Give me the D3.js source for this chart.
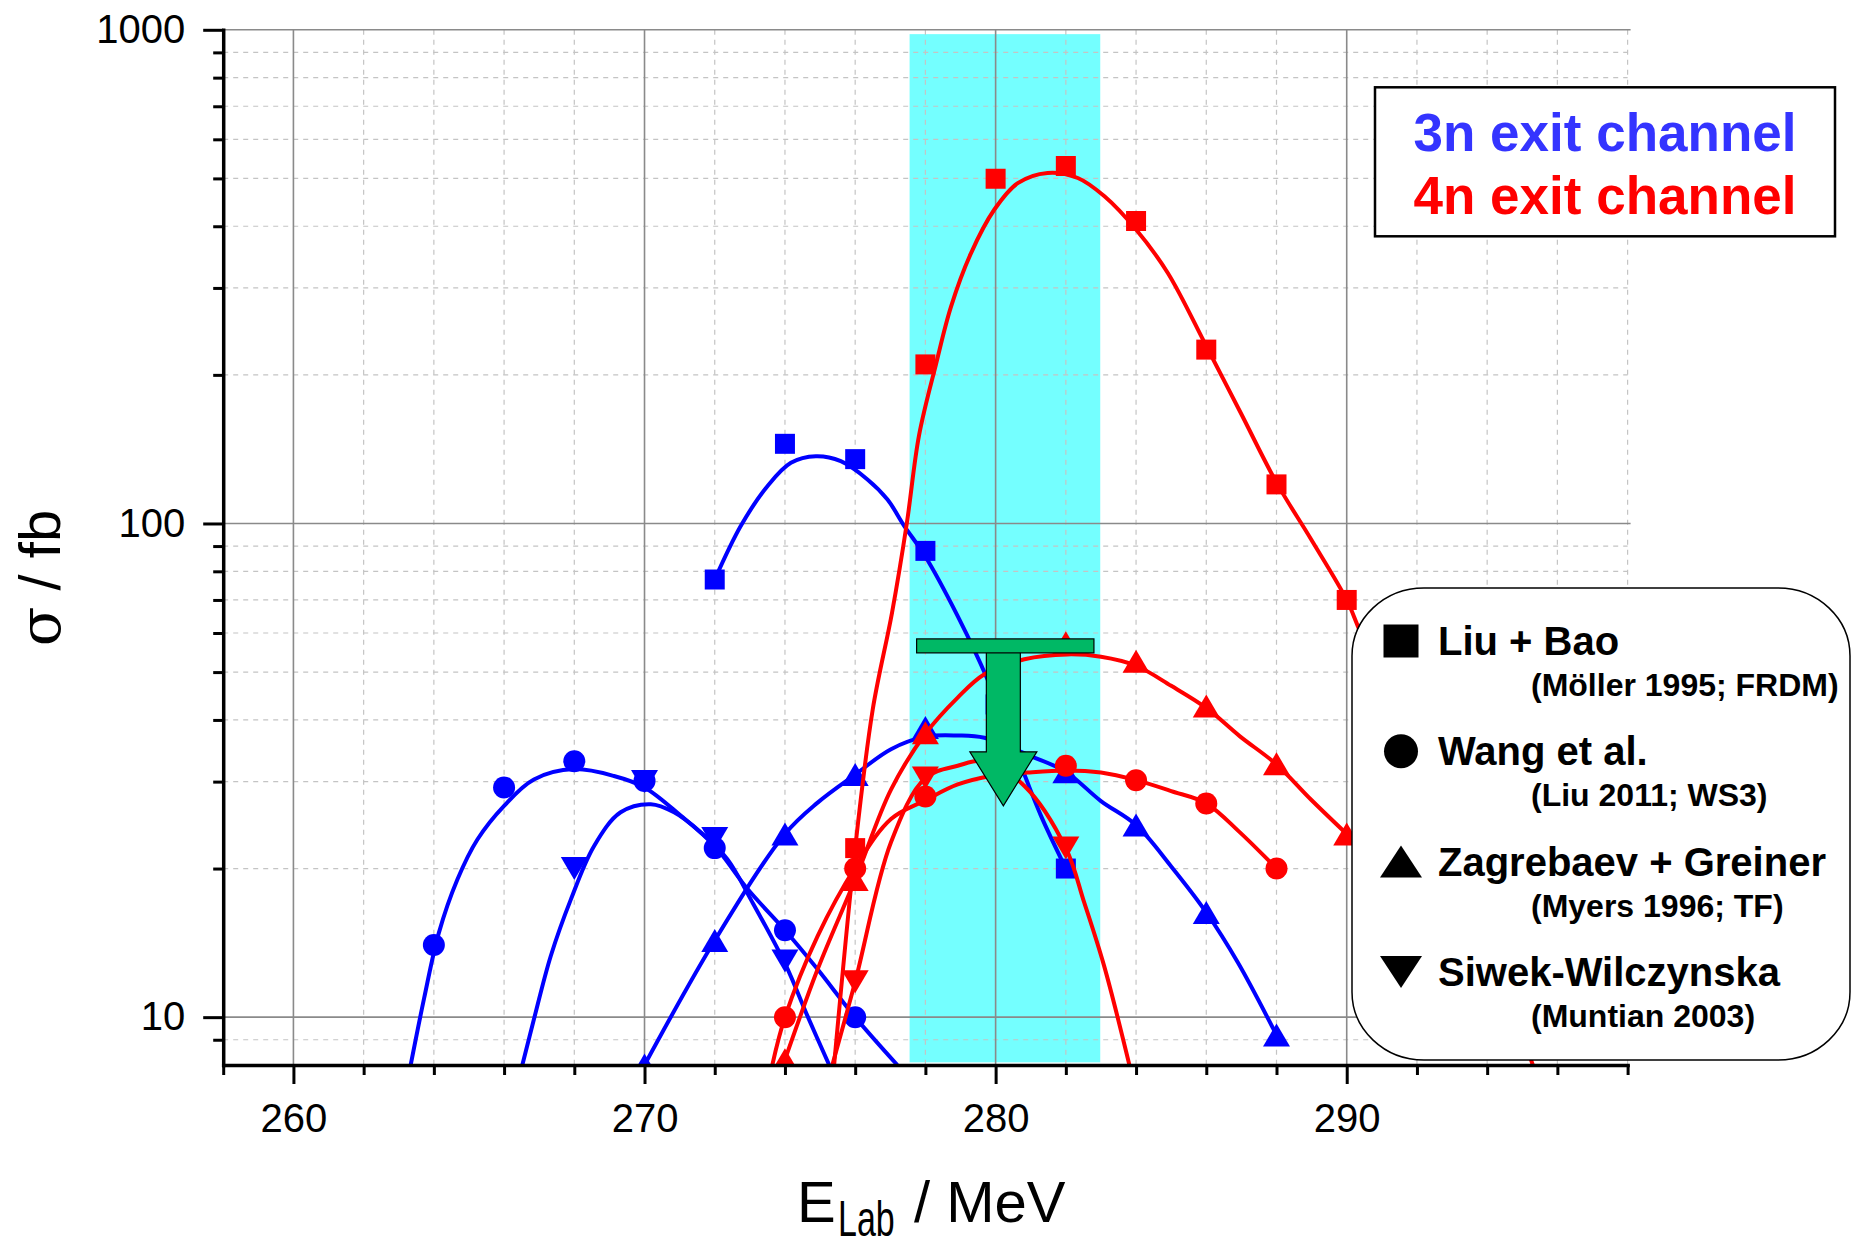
<!DOCTYPE html>
<html>
<head>
<meta charset="utf-8">
<script src="https://cdn.jsdelivr.net/npm/d3@7"></script>
<style>
body { margin: 0; background: #fff; }
svg { display: block; font-family: "Liberation Sans", Arial, sans-serif; }
</style>
</head>
<body>
<svg width="1852" height="1248"></svg>
<script>
	//Data (E_Lab in MeV, sigma in fb)
	// Liu + Bao (squares)
var liu3nE = [272, 274, 276, 278, 280, 282],
    liu3nSigma = [77, 145, 135, 88, 43, 20],
    liu4nE = [276, 278, 280, 282, 284, 286, 288, 290],
    liu4nSigma = [22, 210, 499, 530, 410, 225, 120, 70];
	// Wang et al. (circles)
var wang3nE = [264, 266, 268, 270, 272, 274, 276],
    wang3nSigma = [14, 29.2, 33, 30.1, 22, 15, 10],
    wang4nE = [274, 276, 278, 282, 284, 286, 288],
    wang4nSigma = [10, 20, 28, 32.3, 30.2, 27.1, 20];
	// Zagrebaev + Greiner (up triangles)
var zag3nE = [270, 272, 274, 276, 278, 282, 284, 286, 288],
    zag3nSigma = [8.0, 14.3, 23.5, 31, 38.6, 31.4, 24.5, 16.3, 9.2],
    zag4nE = [274, 276, 278, 282, 284, 286, 288, 290],
    zag4nSigma = [8.2, 19, 37.7, 57.3, 52.6, 42.7, 32.6, 23.5];
	// Siwek-Wilczynska (down triangles)
var siw3nE = [268, 270, 272, 274],
    siw3nSigma = [20, 30, 23, 13],
    siw4nE = [276, 278, 282],
    siw4nSigma = [11.8, 30.5, 22];

	//fit curves
var liu3nFitE = [272, 272.74, 273.5, 274.17, 274.88, 275.59, 276.35, 276.92, 277.4, 277.99, 278.92, 279.77, 280.82, 281.29, 282],
    liu3nFitSigma = [77, 98.8, 119, 132.7, 136.8, 133.7, 122.8, 111.8, 98.8, 85.9, 64.9, 48.3, 31.0, 25.6, 20];
var liu4nFitE = [275.4, 276, 276.5, 277.05, 277.47, 277.82, 278.3, 278.73, 279.3, 279.96, 280.63, 281.48, 282.34, 283.1, 284, 284.9, 286.01, 286.99, 288, 288.98, 290, 290.4, 292, 294, 295.3],
    liu4nFitSigma = [8, 22, 42, 66, 100, 151, 210, 275, 353, 432, 489, 513, 501, 460, 394, 322, 228, 167, 121, 93, 70, 60, 35, 14.6, 8];
var wang3nFitE = [263.34, 263.72, 264.14, 264.67, 265.24, 266.0, 266.85, 267.99, 269.13, 270, 271.03, 272, 272.93, 274, 274.93, 276, 277.2],
    wang3nFitSigma = [8, 10.9, 14.8, 19.0, 22.9, 26.8, 30.3, 31.8, 30.8, 29.2, 25.6, 22.2, 18.2, 15, 12.5, 10, 8];
var wang4nFitE = [273.64, 274, 274.93, 276, 277.02, 278, 278.92, 279.87, 280.91, 282, 283, 284, 285, 286, 286.95, 288],
    wang4nFitSigma = [8, 10, 14.6, 20.1, 25.2, 27.5, 29.6, 30.8, 31.3, 31.6, 31.3, 30.2, 28.7, 27.1, 23.7, 20];
var zag3nFitE = [270, 272, 274, 274.93, 276, 277.02, 278, 278.92, 279.68, 281.0, 282, 283.0, 284, 285.0, 286, 286.9, 288],
    zag3nFitSigma = [8, 14.3, 23.5, 27.2, 31, 34.9, 37.0, 37.2, 36.8, 33.8, 31.4, 27.4, 24.5, 20.2, 16.3, 12.9, 9.2];
var zag4nFitE = [274, 274.93, 276, 277.02, 278, 278.92, 279.68, 280.82, 282.05, 283, 284, 285, 286, 286.95, 288, 288.98, 290],
    zag4nFitSigma = [8.2, 12.5, 19, 28.9, 37.5, 44.4, 49.5, 53.1, 54.3, 53.7, 51.5, 46.9, 42.3, 37.1, 32.5, 27.6, 23.5];
var siw3nFitE = [266.52, 266.85, 267.33, 267.9, 268.56, 269.32, 270.18, 270.84, 271.6, 272.36, 273.03, 274, 274.64, 275.26],
    siw3nFitSigma = [8, 9.9, 13.3, 17.3, 22.2, 26.0, 27.0, 26.0, 23.7, 20.9, 17.3, 12.85, 10.06, 8];
var siw4nFitE = [275.35, 276, 277.02, 278, 278.92, 279.68, 280.82, 282, 282.52, 283.09, 283.81],
    siw4nFitSigma = [8, 11.8, 22.6, 30.5, 32.3, 33.0, 29.4, 22, 17.1, 12.7, 8];

	//shaded energy window and the experimental upper limit
var bandE = [277.55, 282.98],
    bandSigma = [8.1, 980];
var limitRange = [277.75, 282.8],
    limitEnergy = [280.22],
    limitSigma = [56.5, 26.8];

	//ticks and legend text
var xMajor = [260, 270, 280, 290],
    yMajor = [10, 100, 1000],
    yMinor = [9, 20, 30, 40, 50, 60, 70, 80, 90, 200, 300, 400, 500, 600, 700, 800, 900];
var legendNames = ["Liu + Bao", "Wang et al.", "Zagrebaev + Greiner", "Siwek-Wilczynska"],
    legendRefs = ["(Möller 1995; FRDM)", "(Liu 2011; WS3)", "(Myers 1996; TF)", "(Muntian 2003)"],
    legendShapes = ["square", "circle", "up", "down"];

	//Set the dimensions for the canvas
var svg = d3.select("svg"),
    margin = {top: 29.8, right: 224.4, bottom: 183, left: 223.2},
    width = 1852 - margin.left - margin.right,
    height = 1248 - margin.top - margin.bottom,
    g = svg.append("g").attr("transform", "translate(" + margin.left + "," + margin.top + ")");

var x = d3.scaleLinear().domain([258, 298]).range([0, width]),
    y = d3.scaleLog().domain([8, 1000]).range([height, 0]);

var blue = "#0000ff", red = "#ff0000";

var xMinor = d3.range(258, 299, 2).filter(function(d){ return d % 10 !== 0; });

function marker(shape, w, h) {
	if (shape === "square") return "M" + (-w/2) + "," + (-h/2) + "h" + w + "v" + h + "h" + (-w) + "Z";
	if (shape === "circle") return d3.symbol(d3.symbolCircle, Math.PI * w * w / 4)();
	if (shape === "up") return "M0," + (-h/2) + "L" + (w/2) + "," + (h/2) + "L" + (-w/2) + "," + (h/2) + "Z";
	return "M0," + (h/2) + "L" + (w/2) + "," + (-h/2) + "L" + (-w/2) + "," + (-h/2) + "Z";
}

	//cyan window
g.append("rect")
	.attr("x", x(bandE[0]))
	.attr("y", y(bandSigma[1]))
	.attr("width", x(bandE[1]) - x(bandE[0]))
	.attr("height", y(bandSigma[0]) - y(bandSigma[1]))
	.attr("fill", "#74ffff");

	//grid
var grid = g.append("g");
grid.selectAll(".vminor").data(xMinor).enter().append("line")
	.attr("x1", x).attr("x2", x).attr("y1", 0).attr("y2", height)
	.attr("stroke", "#c4c4c4").attr("stroke-width", 1.2).attr("stroke-dasharray", "5,5");
grid.selectAll(".hminor").data(yMinor).enter().append("line")
	.attr("x1", 0).attr("x2", width).attr("y1", y).attr("y2", y)
	.attr("stroke", "#c4c4c4").attr("stroke-width", 1.2).attr("stroke-dasharray", "5,5");
grid.selectAll(".vmajor").data(xMajor).enter().append("line")
	.attr("x1", x).attr("x2", x).attr("y1", 0).attr("y2", height)
	.attr("stroke", "#8a8a8a").attr("stroke-width", 1.6);
grid.selectAll(".hmajor").data(yMajor).enter().append("line")
	.attr("x1", 0).attr("x2", width + 3).attr("y1", y).attr("y2", y)
	.attr("stroke", "#8a8a8a").attr("stroke-width", 1.6);

	//series
var series = [
	{e: liu3nE, s: liu3nSigma, fe: liu3nFitE, fs: liu3nFitSigma, shape: "square", color: blue},
	{e: wang3nE, s: wang3nSigma, fe: wang3nFitE, fs: wang3nFitSigma, shape: "circle", color: blue},
	{e: zag3nE, s: zag3nSigma, fe: zag3nFitE, fs: zag3nFitSigma, shape: "up", color: blue},
	{e: siw3nE, s: siw3nSigma, fe: siw3nFitE, fs: siw3nFitSigma, shape: "down", color: blue},
	{e: liu4nE, s: liu4nSigma, fe: liu4nFitE, fs: liu4nFitSigma, shape: "square", color: red},
	{e: wang4nE, s: wang4nSigma, fe: wang4nFitE, fs: wang4nFitSigma, shape: "circle", color: red},
	{e: zag4nE, s: zag4nSigma, fe: zag4nFitE, fs: zag4nFitSigma, shape: "up", color: red},
	{e: siw4nE, s: siw4nSigma, fe: siw4nFitE, fs: siw4nFitSigma, shape: "down", color: red}
];
var markerSize = {square: [20, 20], circle: [22, 22], up: [27, 23], down: [27, 23]};

g.append("clipPath").attr("id", "plot-clip")
	.append("rect").attr("width", width).attr("height", height);
var plot = g.append("g").attr("clip-path", "url(#plot-clip)");

var line = d3.line()
	.x(function(d){ return x(d[0]); })
	.y(function(d){ return y(d[1]); })
	.curve(d3.curveCatmullRom.alpha(0.5));

[blue, red].forEach(function(col){
	var sel = series.filter(function(s){ return s.color === col; });
	sel.forEach(function(s){
		plot.append("path")
			.attr("d", line(s.fe.map(function(e, i){ return [e, s.fs[i]]; })))
			.attr("fill", "none")
			.attr("stroke", s.color)
			.attr("stroke-width", 4)
			.attr("stroke-linejoin", "round");
	});
	sel.forEach(function(s){
		plot.selectAll(null)
			.data(s.e.map(function(e, i){ return [e, s.s[i]]; }))
			.enter().append("path")
			.attr("transform", function(d){ return "translate(" + x(d[0]) + "," + y(d[1]) + ")"; })
			.attr("d", marker(s.shape, markerSize[s.shape][0], markerSize[s.shape][1]))
			.attr("fill", s.color);
	});
});

	//upper limit arrow
var ax = x(limitEnergy[0]),
    barY = y(limitSigma[0]),
    tipY = y(limitSigma[1]),
    headY = tipY - 54;
g.append("path")
	.attr("d", "M" + (ax - 17) + "," + (barY + 6) + "V" + headY + "H" + (ax - 33.5) +
		"L" + ax + "," + tipY + "L" + (ax + 33.5) + "," + headY + "H" + (ax + 17) + "V" + (barY + 6) + "Z")
	.attr("fill", "#00b865").attr("stroke", "#000").attr("stroke-width", 1.2);
g.append("rect")
	.attr("x", x(limitRange[0])).attr("y", barY - 7)
	.attr("width", x(limitRange[1]) - x(limitRange[0])).attr("height", 14)
	.attr("fill", "#00b865").attr("stroke", "#000").attr("stroke-width", 1.2);

	//Add the X Axis
var xAxisG = g.append("g").attr("transform", "translate(0," + height + ")");
xAxisG.append("g")
	.call(d3.axisBottom(x).tickValues(xMinor).tickSize(10).tickSizeOuter(0).tickFormat(""))
	.call(function(a){ a.select(".domain").remove(); });
xAxisG.append("g")
	.call(d3.axisBottom(x).tickValues(xMajor).tickSize(19).tickSizeOuter(0).tickPadding(20).tickFormat(d3.format("d")));
	//Add the Y axis
var yAxisG = g.append("g");
yAxisG.append("g")
	.call(d3.axisLeft(y).tickValues(yMinor).tickSize(10).tickSizeOuter(0).tickFormat(""))
	.call(function(a){ a.select(".domain").remove(); });
yAxisG.append("g")
	.call(d3.axisLeft(y).tickValues(yMajor).tickSize(20).tickSizeOuter(0).tickPadding(18).tickFormat(d3.format("d")));

g.selectAll(".tick line").attr("stroke", "#000").attr("stroke-width", 3);
g.selectAll(".domain").attr("stroke", "#000").attr("stroke-width", 3.5).attr("stroke-linecap", "square");
g.selectAll(".tick text").attr("font-size", 40).attr("font-family", "Liberation Sans, Arial, sans-serif").attr("fill", "#000");

	//axis titles
svg.append("text")
	.attr("transform", "translate(60,578) rotate(-90)")
	.attr("text-anchor", "middle")
	.attr("font-size", 58)
	.html('<tspan font-family="DejaVu Serif, serif">σ</tspan> / fb');
svg.append("text").attr("x", 797).attr("y", 1222).attr("font-size", 58).text("E");
svg.append("text").attr("transform", "translate(838,1236) scale(0.68,1)").attr("font-size", 50).text("Lab");
svg.append("text").attr("x", 914).attr("y", 1222).attr("font-size", 58).text("/ MeV");

	//channel box
svg.append("rect")
	.attr("x", 1375).attr("y", 87.3).attr("width", 460).attr("height", 149)
	.attr("fill", "#fff").attr("stroke", "#000").attr("stroke-width", 2.5);
svg.append("text").attr("x", 1605).attr("y", 151).attr("text-anchor", "middle")
	.attr("font-size", 53).attr("font-weight", "bold").attr("fill", "#3434ff").text("3n exit channel");
svg.append("text").attr("x", 1605).attr("y", 214).attr("text-anchor", "middle")
	.attr("font-size", 53).attr("font-weight", "bold").attr("fill", red).text("4n exit channel");

	//model legend
svg.append("rect")
	.attr("x", 1352).attr("y", 588).attr("width", 498).attr("height", 472)
	.attr("rx", 72).attr("ry", 68)
	.attr("fill", "#fff").attr("stroke", "#000").attr("stroke-width", 1.5);
var legendSize = {square: [35, 33], circle: [34, 34], up: [42, 32], down: [42, 32]};
var entry = svg.selectAll(".entry").data(legendNames).enter().append("g")
	.attr("transform", function(d, i){ return "translate(0," + (655 + i * 110.3) + ")"; });
entry.append("path")
	.attr("transform", "translate(1401,-14)")
	.attr("d", function(d, i){ var sh = legendShapes[i]; return marker(sh, legendSize[sh][0], legendSize[sh][1]); })
	.attr("fill", "#000");
entry.append("text").attr("x", 1438).attr("font-size", 40).attr("font-weight", "bold")
	.text(function(d){ return d; });
entry.append("text").attr("x", 1531).attr("y", 41).attr("font-size", 32).attr("font-weight", "bold")
	.text(function(d, i){ return legendRefs[i]; });
</script>
</body>
</html>
